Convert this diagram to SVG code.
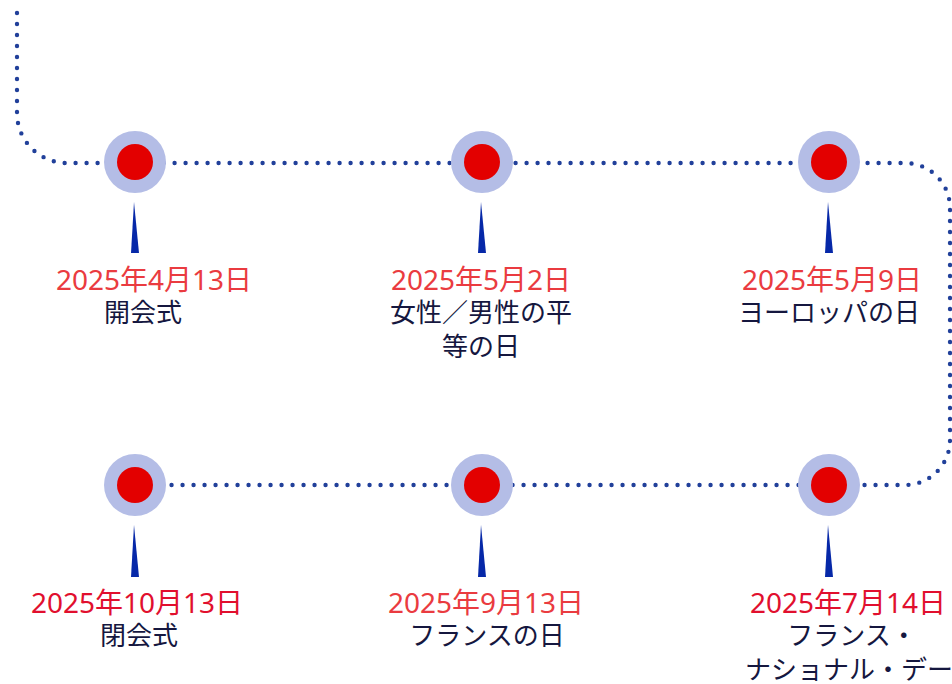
<svg xmlns="http://www.w3.org/2000/svg" width="952" height="684" viewBox="0 0 952 684">
<defs>
<style>
.path{fill:none;stroke:#21409a;stroke-width:4.4;stroke-linecap:round;stroke-dasharray:0 11}
.halo{fill:#b4bde6}
.dot{fill:#e30000}
.pin{fill:#0628a8}
text{font-family:"Noto Sans CJK JP","Noto Sans",sans-serif;font-size:26px;text-anchor:middle}
.date,.date2{font-family:"Noto Sans","Noto Sans CJK JP",sans-serif;font-size:28px}
.date{fill:#ea3b40}
.date2{fill:#e10f2e}
.sub{fill:#15173f}
</style>
</defs>
<rect width="952" height="684" fill="#fff"/>
<g id="connectors">
<path class="path" d="M17,13 V113 A50,50 0 0 0 67,163 H905 A45,45 0 0 1 950,208 V440 A45,45 0 0 1 905,485 H135"/>
</g>
<g id="n1">
<circle class="halo" cx="135" cy="162" r="31"/><circle class="dot" cx="135" cy="162" r="18"/>
<polygon class="pin" points="134,202 131,253 139,253"/>
<text class="date" x="154" y="290">2025年4月13日</text>
<text class="sub" x="143" y="322">開会式</text>
</g>
<g id="n2">
<circle class="halo" cx="482" cy="162" r="31"/><circle class="dot" cx="482" cy="162" r="18"/>
<polygon class="pin" points="481,202 478,253 486,253"/>
<text class="date" x="481" y="290">2025年5月2日</text>
<text class="sub" x="481" y="322">女性／男性の平</text>
<text class="sub" x="481" y="356">等の日</text>
</g>
<g id="n3">
<circle class="halo" cx="829" cy="162" r="31"/><circle class="dot" cx="829" cy="162" r="18"/>
<polygon class="pin" points="828,202 825,253 833,253"/>
<text class="date" x="832" y="290">2025年5月9日</text>
<text class="sub" x="829" y="322">ヨーロッパの日</text>
</g>
<g id="n4">
<circle class="halo" cx="829" cy="485" r="31"/><circle class="dot" cx="829" cy="485" r="18"/>
<polygon class="pin" points="828,525 825,577 833,577"/>
<text class="date2" x="848" y="613">2025年7月14日</text>
<text class="sub" x="852" y="645">フランス・</text>
<text class="sub" x="849" y="679">ナショナル・デー</text>
</g>
<g id="n5">
<circle class="halo" cx="482" cy="485" r="31"/><circle class="dot" cx="482" cy="485" r="18"/>
<polygon class="pin" points="481,525 478,577 486,577"/>
<text class="date" x="486" y="613">2025年9月13日</text>
<text class="sub" x="487" y="645">フランスの日</text>
</g>
<g id="n6">
<circle class="halo" cx="135" cy="485" r="31"/><circle class="dot" cx="135" cy="485" r="18"/>
<polygon class="pin" points="134,525 131,577 139,577"/>
<text class="date2" x="137" y="613">2025年10月13日</text>
<text class="sub" x="139" y="645">閉会式</text>
</g>
</svg>
